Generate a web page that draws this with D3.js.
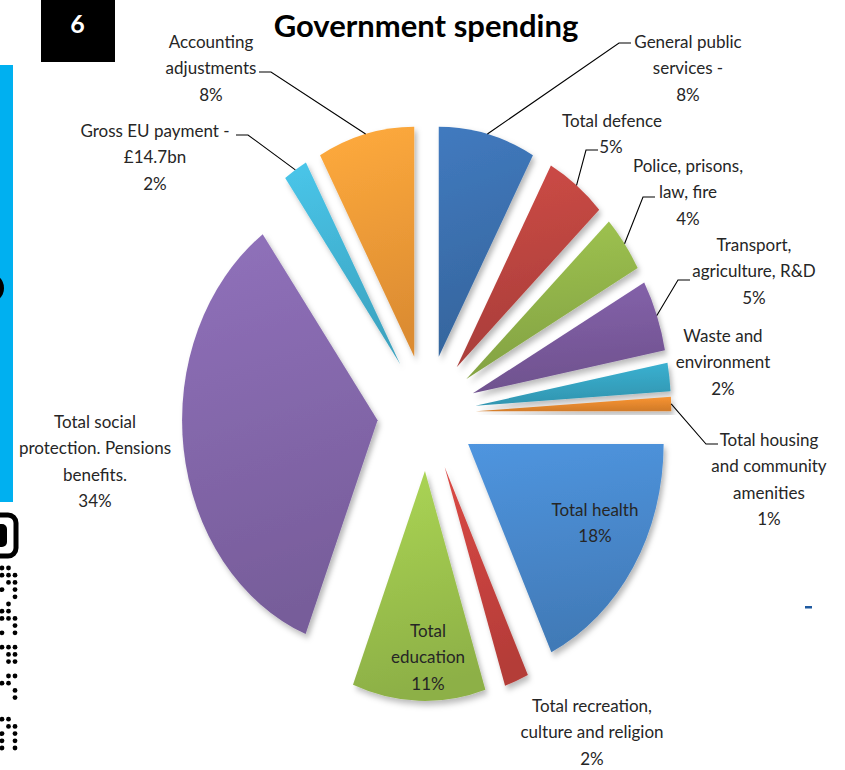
<!DOCTYPE html>
<html>
<head>
<meta charset="utf-8">
<script src="https://cdn.jsdelivr.net/npm/d3@7"></script>
<style>
  body { margin: 0; background: #fff; }
  text { font-family: Lato, "Open Sans", sans-serif; }
</style>
</head>
<body>
<svg id="chart" width="845" height="770"></svg>
<script>
// slice data, clockwise from 12 o'clock
var categories = ["General public services", "Total defence", "Police, prisons, law, fire",
  "Transport, agriculture, R&D", "Waste and environment", "Total housing and community amenities",
  "Total health", "Total recreation, culture and religion", "Total education",
  "Total social protection. Pensions benefits.", "Gross EU payment", "Accounting adjustments"];
var shares = [8, 5, 4, 5, 2, 1, 18, 2, 11, 34, 2, 8];
var labelLines = [
  ["General public", "services -", "8%"],
  ["Total defence", "5%"],
  ["Police, prisons,", "law, fire", "4%"],
  ["Transport,", "agriculture, R&D", "5%"],
  ["Waste and", "environment", "2%"],
  ["Total housing", "and community", "amenities", "1%"],
  ["Total health", "18%"],
  ["Total recreation,", "culture and religion", "2%"],
  ["Total", "education", "11%"],
  ["Total social", "protection. Pensions", "benefits.", "34%"],
  ["Gross EU payment -", "£14.7bn", "2%"],
  ["Accounting", "adjustments", "8%"]
];
var colours = ["#3b70af", "#bc4540", "#92b44a", "#7b5b9e", "#37a6c4", "#ec8b2f",
  "#4888cc", "#c8433e", "#9dc44e", "#8467ab", "#43b5d6", "#f59c38"];

// layout of the label blocks: x centre, first baseline, leader stub (x, y, side)
var labelPos = [
  {x: 688, y: 48, stub: [631, 43, -1]},
  {x: 612, y: 127, stub: [598, 150, -1], lineX: [612, 611]},
  {x: 688, y: 172, stub: [655, 197, -1]},
  {x: 754, y: 251, stub: [690, 280, -1]},
  {x: 723, y: 342, stub: null},
  {x: 769, y: 446, stub: [718, 444, -1]},
  {x: 595, y: 516, stub: null},
  {x: 592, y: 712, stub: null},
  {x: 428, y: 637, stub: null},
  {x: 95, y: 428, stub: null},
  {x: 155, y: 137, stub: [236, 135, 1]},
  {x: 211, y: 48, stub: [259, 72, 1]}
];

var svg = d3.select("#chart");
var cx = 426.5, cy = 413, r = 230, sx = 0.85, explode = 58, lineH = 26.3;

var defs = svg.append("defs");
var shadow = defs.append("filter").attr("id", "shadow")
  .attr("x", "-20%").attr("y", "-20%").attr("width", "140%").attr("height", "140%");
shadow.append("feDropShadow").attr("dx", 3).attr("dy", 4).attr("stdDeviation", 3)
  .attr("flood-color", "#000").attr("flood-opacity", 0.28);

colours.forEach(function(c, i) {
  var g = defs.append("linearGradient").attr("id", "grad" + i)
    .attr("x1", 0).attr("y1", 0).attr("x2", 0.15).attr("y2", 1);
  g.append("stop").attr("offset", "0%").attr("stop-color", d3.color(c).brighter(0.25));
  g.append("stop").attr("offset", "100%").attr("stop-color", d3.color(c).darker(0.3));
});

// slide decorations
svg.append("rect").attr("x", 41).attr("y", 0).attr("width", 74).attr("height", 62).attr("fill", "#000");
svg.append("text").attr("x", 77.5).attr("y", 33).attr("text-anchor", "middle")
  .attr("fill", "#fff").style("font-size", "25px").style("font-weight", "bold").text("6");
svg.append("rect").attr("x", 0).attr("y", 65).attr("width", 13).attr("height", 437).attr("fill", "#00b0f0");
svg.append("circle").attr("cx", -11).attr("cy", 288).attr("r", 15).attr("fill", "#000");
svg.append("rect").attr("x", -20).attr("y", 515).attr("width", 36).attr("height", 41).attr("rx", 8)
  .attr("fill", "none").attr("stroke", "#000").attr("stroke-width", 5);
svg.append("rect").attr("x", -10).attr("y", 524).attr("width", 17).attr("height", 23).attr("rx", 5).attr("fill", "#000");
var dotRows = ["110", "111", "011", "101", "001", "010", "110", "111", "001", "101", "000",
  "111", "011", "011", "000", "011", "110", "001", "001", "000", "000", "110", "011", "101", "101", "101"];
dotRows.forEach(function(row, j) {
  row.split("").forEach(function(ch, k) {
    if (ch === "1") svg.append("circle").attr("cx", 2 + k * 6.5).attr("cy", 568 + j * 7.2)
      .attr("r", 2.4).attr("fill", "#000");
  });
});
svg.append("rect").attr("x", 805).attr("y", 606).attr("width", 7).attr("height", 2.5).attr("fill", "#1f5aa0");

// title
svg.append("text").attr("x", 426).attr("y", 37).attr("text-anchor", "middle")
  .style("font-size", "31px").style("font-weight", "bold").attr("fill", "#000")
  .text("Government spending");

var pie = d3.pie().sort(null).value(function(d) { return d; });
var arcs = pie(shares);
var arc = d3.arc().innerRadius(0).outerRadius(r);

function apex(d) {
  var m = (d.startAngle + d.endAngle) / 2;
  return [cx + explode * Math.sin(m) * sx, cy - explode * Math.cos(m)];
}

svg.append("g").selectAll("path")
  .data(arcs)
  .enter()
  .append("path")
  .attr("d", arc)
  .attr("transform", function(d) { var p = apex(d); return "translate(" + p[0] + "," + p[1] + ") scale(" + sx + ",1)"; })
  .attr("fill", function(d, i) { return "url(#grad" + i + ")"; })
  .attr("filter", "url(#shadow)");

// leader lines
var leaders = svg.append("g").attr("fill", "none").attr("stroke", "#000").attr("stroke-width", 1.1);
arcs.forEach(function(d, i) {
  var s = labelPos[i].stub;
  if (!s) return;
  var m = (d.startAngle + d.endAngle) / 2, p = apex(d);
  var end = [p[0] + r * Math.sin(m) * sx, p[1] - r * Math.cos(m)];
  leaders.append("path").attr("d", d3.line()([end, [s[0] + s[2] * 12, s[1]], [s[0], s[1]]]));
});

// labels
var labels = svg.append("g").attr("fill", "#262626").style("font-size", "17px").attr("text-anchor", "middle");
labelLines.forEach(function(lines, i) {
  var lp = labelPos[i];
  var t = labels.append("text");
  lines.forEach(function(l, j) {
    t.append("tspan").attr("x", lp.lineX && lp.lineX[j] != null ? lp.lineX[j] : lp.x)
      .attr("y", lp.y + j * lineH).text(l);
  });
});
</script>
</body>
</html>
